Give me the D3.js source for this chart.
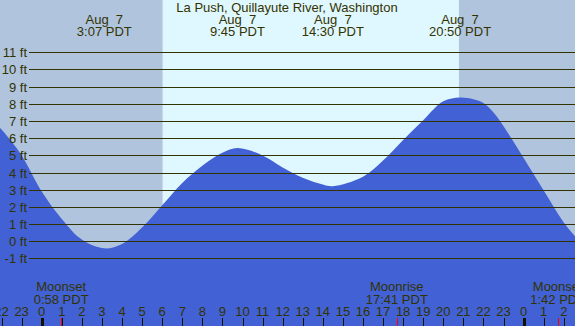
<!DOCTYPE html>
<html><head><meta charset="utf-8">
<script src="https://cdn.jsdelivr.net/npm/d3@7"></script>
<style>
html,body{margin:0;padding:0;background:#fff;overflow:hidden}
text{font-family:"Liberation Sans",Arial,sans-serif;font-size:13px;fill:#333300}
</style>
</head><body><svg id="c" width="575" height="326"></svg>
<script>
const title = "La Push, Quillayute River, Washington";
// tide heights (ft) by hour of Aug 7 (negative = Aug 6, >24 = Aug 8)
const tideHours = [-2.5, -2, -1, 0, 1, 2, 3.117, 4, 5, 6, 7, 8, 9, 9.75, 11, 12, 13, 14, 14.5, 16, 17, 18, 19, 20, 20.833, 21.5, 22, 22.5, 23, 24, 25, 26, 27];
const tideFeet  = [7.1, 6.5, 5.0, 2.9, 1.3, 0.1, -0.41, -0.15, 0.8, 2.1, 3.4, 4.4, 5.15, 5.43, 5.0, 4.3, 3.7, 3.3, 3.2, 3.75, 4.7, 5.9, 7.05, 8.15, 8.37, 8.27, 8.05, 7.5, 6.7, 4.85, 2.95, 1.1, -0.3];
const extremeHours = [3.117, 9.75, 14.5, 20.833];
const extremeDates = ["Aug  7", "Aug  7", "Aug  7", "Aug  7"];
const extremeTimes = ["3:07 PDT", "9:45 PDT", "14:30 PDT", "20:50 PDT"];
const moonHours = [0.967, 17.683, 25.7];
const moonEvents = ["Moonset", "Moonrise", "Moonset"];
const moonTimes = ["0:58 PDT", "17:41 PDT", "1:42 PDT"];
const sunriseHour = 6.03, sunsetHour = 20.78;
const yTicks = [-1, 0, 1, 2, 3, 4, 5, 6, 7, 8, 9, 10, 11];
const hourTicks = d3.range(-2, 27);

const W = 575, H = 326;
const svg = d3.select("#c");
const x = d3.scaleLinear().domain([0, 24]).range([41.7, 41.7 + 24 * 20.08]);
const y = d3.scaleLinear().domain([0, 11]).range([241.3, 52.3]);
const hMin = x.invert(0), hMax = x.invert(W);

// day / night background
const bands = [
  {a: hMin, b: sunriseHour, c: "#b0c4de"},
  {a: sunriseHour, b: sunsetHour, c: "#dff7fe"},
  {a: sunsetHour, b: hMax, c: "#b0c4de"}
];
svg.selectAll("rect.band").data(bands).enter().append("rect")
  .attr("x", d => x(d.a)).attr("y", 0)
  .attr("width", d => x(d.b) - x(d.a)).attr("height", H)
  .attr("fill", d => d.c);

// tide area
const pts = tideHours.map((h, i) => ({h, v: tideFeet[i]}));
svg.append("defs").append("clipPath").attr("id", "clip")
  .append("rect").attr("x", 0).attr("y", 0).attr("width", W).attr("height", H);
svg.append("path").datum(pts)
  .attr("clip-path", "url(#clip)")
  .attr("fill", "#4161d5")
  .attr("d", d3.area().x(d => x(d.h)).y0(H).y1(d => y(d.v)).curve(d3.curveCatmullRom.alpha(0.5)));

// grid lines + labels
const gy = v => Math.round(y(v)) + 0.5;
svg.selectAll("line.grid").data(yTicks).enter().append("line")
  .attr("x1", 29).attr("x2", W).attr("y1", gy).attr("y2", gy)
  .attr("stroke", "#333300").attr("stroke-width", 1);
svg.selectAll("text.yl").data(yTicks).enter().append("text")
  .attr("x", 27).attr("y", d => gy(d) + 4).attr("text-anchor", "end")
  .text(d => d + " ft");

// title
svg.append("text").attr("x", 287).attr("y", 12).attr("text-anchor", "middle").text(title);

// extremes labels
extremeHours.forEach((h, i) => {
  svg.append("text").attr("x", x(h)).attr("y", 24).attr("text-anchor", "middle")
    .style("white-space", "pre").text(extremeDates[i]);
  svg.append("text").attr("x", x(h)).attr("y", 36).attr("text-anchor", "middle")
    .text(extremeTimes[i]);
});

// hour axis
svg.selectAll("text.hl").data(hourTicks).enter().append("text")
  .attr("x", d => x(d)).attr("y", 316).attr("text-anchor", "middle")
  .text(d => ((d % 24) + 24) % 24);
svg.selectAll("line.ht").data(hourTicks).enter().append("line")
  .attr("x1", d => Math.round(x(d)) + 0.5).attr("x2", d => Math.round(x(d)) + 0.5)
  .attr("y1", 318).attr("y2", H)
  .attr("stroke", "#111100")
  .attr("stroke-width", d => (d % 24 === 0) ? 3 : 1);

// moon events
moonHours.forEach((h, i) => {
  svg.append("line").attr("x1", Math.round(x(h)) + 0.5).attr("x2", Math.round(x(h)) + 0.5)
    .attr("y1", 318).attr("y2", H).attr("stroke", "#ff0000").attr("stroke-width", 1);
  svg.append("text").attr("x", x(h)).attr("y", 291).attr("text-anchor", "middle").text(moonEvents[i]);
  svg.append("text").attr("x", x(h)).attr("y", 303.5).attr("text-anchor", "middle").text(moonTimes[i]);
});
</script>
</body></html>
